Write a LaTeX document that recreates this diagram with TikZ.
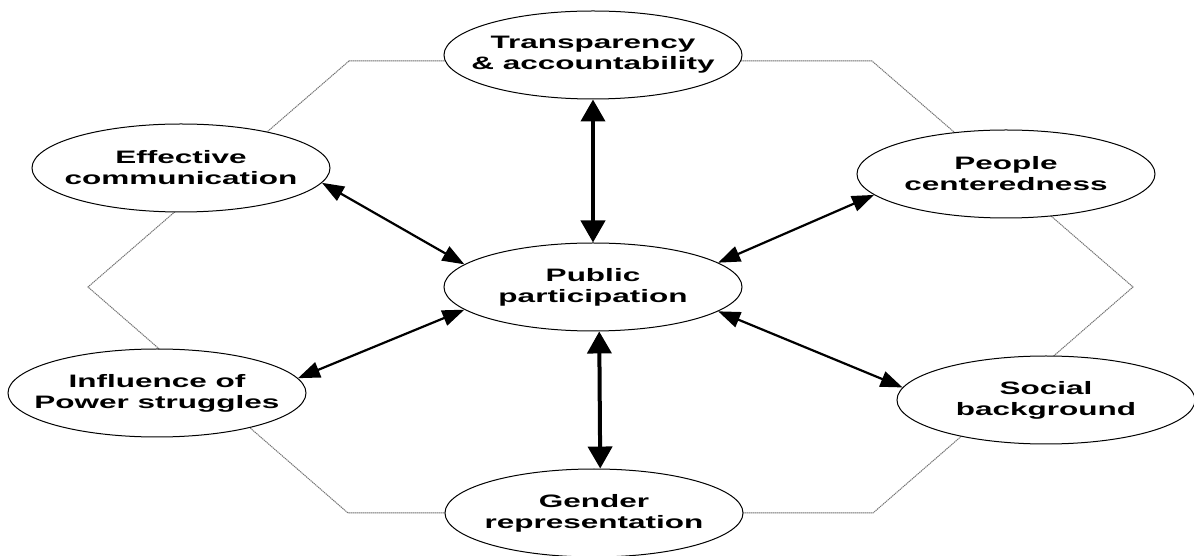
\documentclass[tikz,border=0pt]{standalone}
\usepackage{fontspec}
\newfontfamily\lblfont{Liberation Sans Bold}[FakeStretch=1.75]
\usetikzlibrary{positioning,shapes.geometric,arrows.meta}

\begin{document}
\begin{tikzpicture}[x=1pt, y=1pt, on grid] %Participation
            \tikzstyle{maincircle} = [ellipse, draw, line width=1pt, fill=white, minimum width=298pt, minimum height=88pt, inner xsep=-80pt, align=center, font=\lblfont\fontsize{18}{21}\selectfont]
            \tikzstyle{thinarrow} = [{Triangle[length=22pt,width=16pt]}-{Triangle[length=22pt,width=16pt]}, line width=2.2pt]
            \tikzstyle{thickarrow} = [{Triangle[length=22pt,width=24pt]}-{Triangle[length=22pt,width=24pt]}, line width=4pt]
            \tikzstyle{hexline} = [black!55, line width=1pt, dash pattern=on 1.3pt off 0.7pt]
            \useasboundingbox (-593,-269) rectangle (601,287);
            \draw[hexline] (-244,226) -- (279,226) -- (540,0) -- (280,-226) -- (-245,-226) -- (-505,0) -- cycle;
            \node[maincircle] (P) at (0,0) {Public\\participation};
            \node[maincircle, above left=119pt and 412pt of P] (P1) {Effective\\communication};
            \node[maincircle, above=232pt of P] (P2) {Transparency\\\& accountability};
            \node[maincircle, above right=113pt and 413pt of P] (P3) {People\\centeredness};
            \node[maincircle, below left=106pt and 436pt of P] (P4) {Influence of\\Power struggles};
            \node[maincircle, below right=226pt and 1pt of P] (P5) {Gender\\representation};
            \node[maincircle, below right=113pt and 453pt of P] (P6) {Social\\background};
            \foreach \i/\p/\q in {1/170/-6, 3/11/189, 4/190/6, 6/-11/175}
            {
                \draw[thinarrow] (P.\p) -- (P\i.\q);
            }
            \draw[thickarrow] (P.north) -- (P2.south);
            \draw[thickarrow] (P.-82) -- (P5.82);
\end{tikzpicture}
\end{document}
